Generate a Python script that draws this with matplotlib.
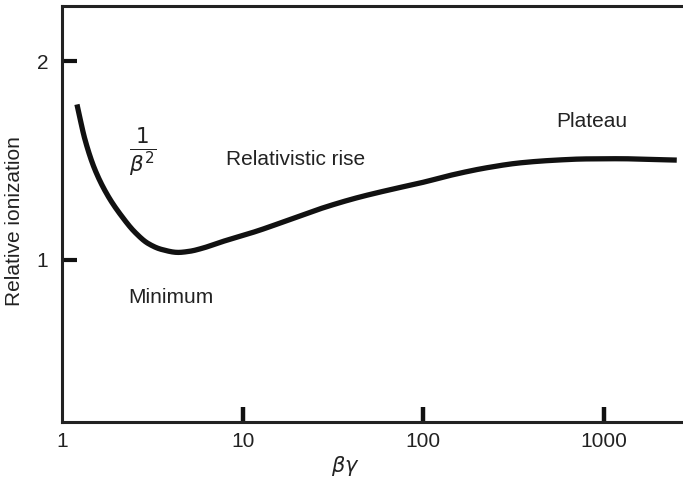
import numpy as np
import matplotlib
matplotlib.use("Agg")
import matplotlib.pyplot as plt

plt.rcParams['font.family'] = ['Liberation Sans', 'DejaVu Sans']
plt.rcParams['mathtext.fontset'] = 'dejavusans'

# Curve
beta_gamma = [1.21, 1.34, 1.52, 1.80, 2.14, 2.54, 3.0, 3.56, 4.40, 5.11, 5.93, 7.82, 11.95, 18.3, 27.9, 42.7, 65.2, 100, 146, 224, 344, 524, 800, 1225, 1880, 2540]
rel_ion = [1.783, 1.606, 1.455, 1.32, 1.219, 1.137, 1.081, 1.051, 1.036, 1.042, 1.056, 1.092, 1.143, 1.202, 1.261, 1.311, 1.352, 1.390, 1.428, 1.463, 1.488, 1.501, 1.508, 1.509, 1.505, 1.502]

x_ticks = [10, 100, 1000]
x_tick_labels = ['10', '100', '1000']
y_ticks = [1, 2]
y_tick_labels = ['1', '2']


def pchip(x, y, xn):
    """Monotone cubic Hermite interpolation (Fritsch-Carlson) for a smooth drawn line."""
    x = np.asarray(x, float)
    y = np.asarray(y, float)
    h = np.diff(x)
    d = np.diff(y) / h
    m = np.zeros_like(y)
    for k in range(1, len(y) - 1):
        if d[k - 1] * d[k] > 0:
            w1 = 2 * h[k] + h[k - 1]
            w2 = h[k] + 2 * h[k - 1]
            m[k] = (w1 + w2) / (w1 / d[k - 1] + w2 / d[k])
    m[0] = d[0]
    m[-1] = d[-1]
    idx = np.clip(np.searchsorted(x, xn) - 1, 0, len(x) - 2)
    t = (xn - x[idx]) / h[idx]
    h00 = 2 * t**3 - 3 * t**2 + 1
    h10 = t**3 - 2 * t**2 + t
    h01 = -2 * t**3 + 3 * t**2
    h11 = t**3 - t**2
    return h00 * y[idx] + h10 * h[idx] * m[idx] + h01 * y[idx + 1] + h11 * h[idx] * m[idx + 1]


fig = plt.figure(figsize=(6.83, 4.86), dpi=100)
ax = fig.add_axes([0.0908, 0.1317, 0.9092, 0.8560])

lx = np.log10(beta_gamma)
lxn = np.linspace(lx[0], lx[-1], 800)
ax.plot(10 ** lxn, pchip(lx, rel_ion, lxn), color='#111111', lw=3.8,
        solid_capstyle='butt', solid_joinstyle='round')

ax.set_xscale('log')
ax.set_xlim(1, 2750)
ax.set_ylim(0.18, 2.28)

ax.set_xticks(x_ticks)
ax.set_xticklabels([])
ax.set_yticks(y_ticks)
ax.set_yticklabels(y_tick_labels)
ax.xaxis.set_minor_locator(matplotlib.ticker.NullLocator())
ax.tick_params(axis='x', direction='in', length=11, width=3.2, color='#111111')
ax.tick_params(axis='y', direction='in', length=11, width=3.0, color='#111111',
               labelsize=15, pad=10, labelcolor='#222222')

for v, lab in zip([1] + x_ticks, ['1'] + x_tick_labels):
    ax.text(v, -0.025, lab, transform=ax.get_xaxis_transform(), ha='center', va='top',
            fontsize=15, color='#222222')

for s in ['left', 'bottom', 'top']:
    ax.spines[s].set_linewidth(2.2)
    ax.spines[s].set_color('#222222')
ax.spines['right'].set_visible(False)

fig.text(15 / 683, 1 - 221 / 486, 'Relative ionization', rotation=90, ha='center', va='center',
         fontsize=15, color='#222222')
fig.text(345 / 683, 1 - 466 / 486, r'$\beta\gamma$', ha='center', va='center', fontsize=15, color='#222222')

ax.text(8.09, 1.505, 'Relativistic rise', ha='left', va='center', fontsize=15, color='#222222')
ax.text(2.32, 0.808, 'Minimum', ha='left', va='center', fontsize=15, color='#222222')
ax.text(549, 1.697, 'Plateau', ha='left', va='center', fontsize=15, color='#222222')
ax.text(2.81, 1.545, r'$\frac{1}{\beta^2}$', ha='center', va='center', fontsize=22, color='#222222')

fig.savefig('out.png', dpi=100)
